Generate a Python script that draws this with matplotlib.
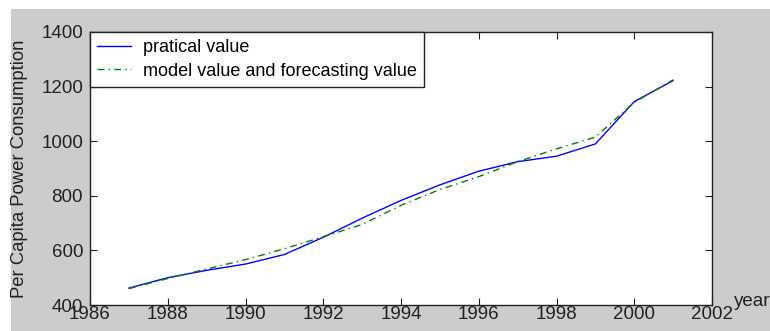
import matplotlib
matplotlib.use("Agg")
import matplotlib.pyplot as plt
from matplotlib.patches import Rectangle

years = [1987, 1988, 1989, 1990, 1991, 1992, 1993, 1994, 1995, 1996, 1997, 1998, 1999, 2000, 2001]
practical = [462, 500, 527, 550, 585, 648, 718, 783, 840, 890, 925, 945, 990, 1145, 1222]
model = [460, 497, 532, 566, 606, 650, 695, 765, 823, 870, 925, 972, 1015, 1142, 1225]
xticks = [1986, 1988, 1990, 1992, 1994, 1996, 1998, 2000, 2002]
yticks = [400, 600, 800, 1000, 1200, 1400]

plt.rcParams['font.family'] = ['Liberation Sans', 'DejaVu Sans']
W, H = 770, 331
fig = plt.figure(figsize=(W / 100, H / 100), dpi=100, facecolor='white')
fig.patches.append(Rectangle((11 / W, 0), 1 - 11 / W, (H - 9) / H,
                             transform=fig.transFigure, facecolor='#cccccc',
                             edgecolor='none', zorder=-10))

ax = fig.add_axes([90 / W, (H - 305) / H, (712 - 90) / W, (305 - 32) / H])
ax.set_facecolor('white')
ax.plot(years, practical, color='#0000ff', lw=1.0, label='pratical value')
ax.plot(years, model, color='#008000', lw=1.0, linestyle=(0, (5, 3, 1, 3)),
        label='model value and forecasting value')

ax.set_xlim(1986, 2002)
ax.set_ylim(400, 1400)
ax.set_xticks(xticks)
ax.set_yticks(yticks)
ax.tick_params(direction='in', top=True, right=True, length=5, width=0.8,
               labelsize=13.5, colors='#222222')
ax.tick_params(axis='x', pad=1)
ax.tick_params(axis='y', pad=5)
for s in ax.spines.values():
    s.set_color('#222222')
    s.set_linewidth(1.0)

ax.set_ylabel('Per Capita Power Consumption', fontsize=13.3, color='#222222', va='center')
ax.yaxis.set_label_coords((19.5 - 90) / 622, 0.5)
fig.text(734 / W, (H - 302) / H, 'year', fontsize=13.5, color='#222222',
         ha='left', va='center')

leg = ax.legend(loc='upper left', borderaxespad=0, fancybox=False,
                fontsize=13, handlelength=1.9, handletextpad=0.65,
                borderpad=0.38, labelspacing=0.38, framealpha=1)
leg.get_frame().set_edgecolor('#222222')
leg.get_frame().set_linewidth(1.0)

fig.savefig('out.png', dpi=100, facecolor='white')
